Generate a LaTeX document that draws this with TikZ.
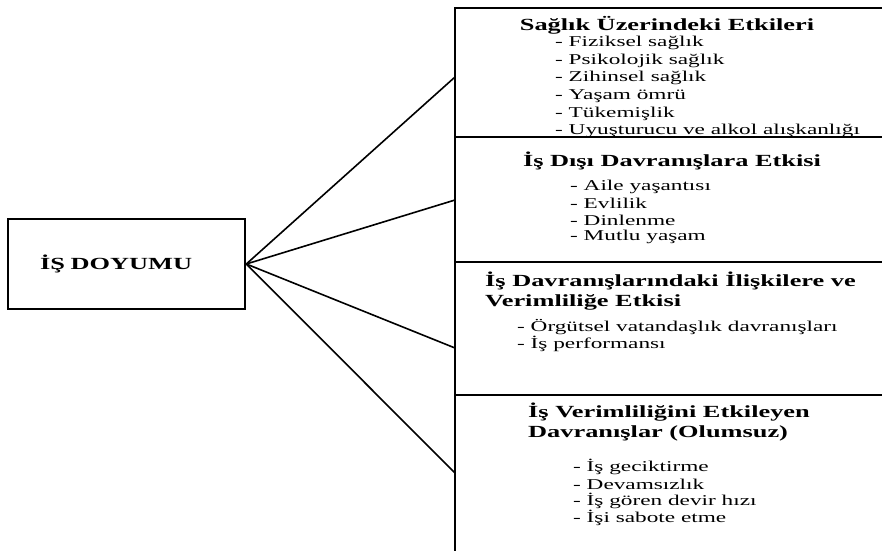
\documentclass[tikz,border=0pt]{standalone}
\usepackage{fontspec}
\setmainfont[FakeStretch=1.55]{Liberation Serif}
\usetikzlibrary{positioning}

\begin{document}
\begin{tikzpicture}[
          x=1pt, y=-1pt,
          hub/.style={rectangle, draw, line width=2.6pt, inner ysep=0pt,
                      inner xsep=32pt, text width=173pt, align=left,
                      minimum height=90pt, font=\bfseries\fontsize{17}{20}\selectfont},
          head/.style={inner sep=0pt, font=\bfseries\fontsize{17}{19.5}\selectfont},
          item/.style={inner sep=0pt, anchor=west, font=\fontsize{15}{17}\selectfont},
          panel/.style={line width=2.2pt},
          link/.style={line width=1.6pt}
        ]
        \useasboundingbox (0,0) rectangle (882,551);
        % left box
        \node[hub] (doyum) at (126.5,264) {İŞ DOYUMU};
        % frame of the right panels
        \draw[panel] (882,8) -- (455,8) -- (455,551);
        \draw[panel] (455,137) -- (882,137);
        \draw[panel] (455,262) -- (882,262);
        \draw[panel] (455,395) -- (882,395);
        \coordinate (p1) at (455,77);
        \coordinate (p2) at (455,200);
        \coordinate (p3) at (455,348);
        \coordinate (p4) at (455,473);
        \foreach \p in {p1,p2,p3,p4}
          \draw[link] (doyum.east) -- (\p);
        % panel 1
        \node[head] (t1) at (667,25) {Sağlık Üzerindeki Etkileri};
        \foreach \t [count=\i] in {Fiziksel sağlık, Psikolojik sağlık, Zihinsel sağlık,
            Yaşam ömrü, Tükemişlik, Uyuşturucu ve alkol alışkanlığı}
          \node[item] (s1-\i) at (555,{43+17.6*(\i-1)}) {- \t};
        % panel 2
        \node[head] (t2) at (672,161) {İş Dışı Davranışlara Etkisi};
        \foreach \t [count=\i] in {Aile yaşantısı, Evlilik, Dinlenme, Mutlu yaşam}
          \node[item] (s2-\i) at (570,{187+16.8*(\i-1)}) {- \t};
        % panel 3
        \node[head, anchor=west, align=left] (t3) at (485,291)
          {İş Davranışlarındaki İlişkilere ve\\Verimliliğe Etkisi};
        \foreach \t [count=\i] in {Örgütsel vatandaşlık davranışları, İş performansı}
          \node[item] (s3-\i) at (517,{327+17*(\i-1)}) {- \t};
        % panel 4
        \node[head, anchor=west, align=left] (t4) at (528,422)
          {İş Verimliliğini Etkileyen\\Davranışlar (Olumsuz)};
        \foreach \t [count=\i] in {İş geciktirme, Devamsızlık, İş gören devir hızı, İşi sabote etme}
          \node[item] (s4-\i) at (573,{467+17*(\i-1)}) {- \t};
      \end{tikzpicture}
\end{document}
